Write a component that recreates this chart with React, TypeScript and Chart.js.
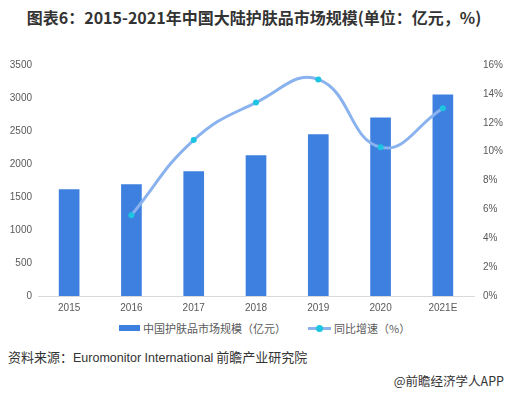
import React, { useEffect, useRef } from "react";
import { Chart, registerables } from "chart.js";

Chart.register(...registerables);

const categories = ["2015", "2016", "2017", "2018", "2019", "2020", "2021E"];
const marketSize = [1614, 1690, 1886, 2127, 2444, 2700, 3047];
const growthRate = [null, 5.6, 10.8, 13.4, 15.0, 10.3, 13.0];
const leftTicks = [0, 500, 1000, 1500, 2000, 2500, 3000, 3500];
const rightTicks = [0, 2, 4, 6, 8, 10, 12, 14, 16];

const BAR_COLOR = "#3E80E0";
const LINE_COLOR = "#8AB2EE";
const POINT_COLOR = "#1CC6E0";
const TEXT_COLOR = "#595959";
const FONT = "'Liberation Sans', Arial, sans-serif";
const CJK = "'Noto Sans CJK SC', 'Liberation Sans', sans-serif";

export default function App() {
  const ref = useRef<HTMLCanvasElement | null>(null);

  useEffect(() => {
    document.body.style.margin = "0";
    const ctx = ref.current!.getContext("2d")!;
    const chart = new Chart(ctx, {
      type: "bar",
      data: {
        labels: categories,
        datasets: [
          {
            type: "line",
            label: "同比增速（%）",
            data: growthRate as any,
            yAxisID: "y1",
            borderColor: LINE_COLOR,
            borderWidth: 3,
            tension: 0.45,
            pointRadius: 3,
            pointBackgroundColor: POINT_COLOR,
            pointBorderColor: POINT_COLOR,
            pointBorderWidth: 0,
            spanGaps: false,
            order: 0,
          } as any,
          {
            type: "bar",
            label: "中国护肤品市场规模（亿元）",
            data: marketSize,
            yAxisID: "y",
            backgroundColor: BAR_COLOR,
            barThickness: 20,
            order: 1,
          },
        ],
      },
      options: {
        responsive: false,
        animation: false,
        layout: { padding: { top: 14, left: 0, right: 0, bottom: 0 } },
        plugins: { legend: { display: false }, tooltip: { enabled: false } },
        scales: {
          x: {
            grid: { display: false, drawTicks: false },
            border: { display: true, color: "#D9D9D9" },
            ticks: { color: TEXT_COLOR, font: { family: FONT, size: 10 }, padding: 6 },
            afterFit: (s: any) => { s.height = 20; },
          },
          y: {
            position: "left",
            min: 0,
            max: 3500,
            afterBuildTicks: (s: any) => { s.ticks = leftTicks.map((v) => ({ value: v })); },
            grid: { display: false, drawTicks: false },
            border: { display: false },
            ticks: {
              color: TEXT_COLOR,
              font: { family: FONT, size: 10 },
              padding: 6,
              callback: (v: any) => String(v),
            },
            afterFit: (s: any) => { s.width = 38; },
          },
          y1: {
            position: "right",
            min: 0,
            max: 16,
            afterBuildTicks: (s: any) => { s.ticks = rightTicks.map((v) => ({ value: v })); },
            grid: { display: false, drawTicks: false },
            border: { display: false },
            ticks: {
              color: TEXT_COLOR,
              font: { family: FONT, size: 10 },
              padding: 9,
              callback: (v: any) => v + "%",
            },
            afterFit: (s: any) => { s.width = 34; },
          },
        },
      },
    });
    return () => chart.destroy();
  }, []);

  return (
    <div style={{ position: "absolute", left: 0, top: 0, width: 508, height: 394, background: "#fff", overflow: "hidden" }}>
      <div
        style={{
          position: "absolute",
          left: 0,
          top: 5,
          width: 508,
          textAlign: "center",
          fontFamily: CJK,
          fontWeight: 700,
          fontSize: 16,
          color: "#333",
          whiteSpace: "nowrap",
        }}
      >
        图表6：2015-2021年中国大陆护肤品市场规模(单位：亿元，%)
      </div>
      <canvas ref={ref} width={508} height={266} style={{ position: "absolute", left: 0, top: 50 }} />
      <div
        style={{
          position: "absolute",
          top: 320,
          left: 119,
          display: "flex",
          alignItems: "center",
          fontFamily: CJK,
          fontSize: 11,
          color: TEXT_COLOR,
          whiteSpace: "nowrap",
        }}
      >
        <span style={{ display: "inline-block", width: 21, height: 6, background: BAR_COLOR, marginRight: 3 }} />
        <span>中国护肤品市场规模（亿元）</span>
        <span style={{ position: "relative", display: "inline-block", width: 23, height: 10, marginLeft: 22, marginRight: 3 }}>
          <span style={{ position: "absolute", left: 0, top: 4, width: 23, height: 3, background: LINE_COLOR }} />
          <span style={{ position: "absolute", left: 8, top: 2, width: 7, height: 7, borderRadius: 4, background: POINT_COLOR }} />
        </span>
        <span>同比增速（%）</span>
      </div>
      <div style={{ position: "absolute", left: 8, top: 347, fontFamily: CJK, fontSize: 13, color: "#333", whiteSpace: "nowrap" }}>
        资料来源：<span style={{ fontFamily: FONT, fontSize: 12.5 }}>Euromonitor International</span> 前瞻产业研究院
      </div>
      <div style={{ position: "absolute", right: 4, top: 371, fontFamily: CJK, fontSize: 12.5, color: "#333", whiteSpace: "nowrap" }}>
        @前瞻经济学人APP
      </div>
    </div>
  );
}
